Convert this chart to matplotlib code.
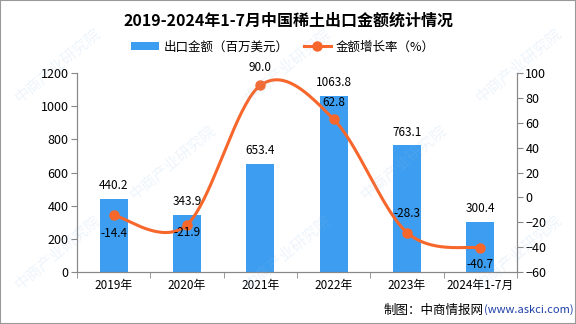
import numpy as np
import matplotlib.pyplot as plt
from matplotlib.patches import Rectangle

plt.rcParams['font.family'] = ['Noto Sans CJK SC', 'DejaVu Sans']

# data
years = ['2019年', '2020年', '2021年', '2022年', '2023年', '2024年1-7月']
export_value = [440.2, 343.9, 653.4, 1063.8, 763.1, 300.4]   # 百万美元
growth_rate = [-14.4, -21.9, 90.0, 62.8, -28.3, -40.7]       # %

# vertical offsets (points) of the growth labels, as placed in the reference
rate_offsets = [-13, -6, 13, 12, 14, -12]

bar_color = '#3d9df0'
line_color = '#f7662a'


def catmull_rom(xs, ys, n=40):
    """Smooth curve through the points (drawing only)"""
    pts = np.column_stack([xs, ys]).astype(float)
    pts = np.vstack([pts[0], pts, pts[-1]])
    out = []
    for i in range(1, len(pts) - 2):
        p0, p1, p2, p3 = pts[i - 1], pts[i], pts[i + 1], pts[i + 2]
        t = np.linspace(0, 1, n)[:, None]
        seg = 0.5 * ((2 * p1) + (-p0 + p2) * t +
                     (2 * p0 - 5 * p1 + 4 * p2 - p3) * t ** 2 +
                     (-p0 + 3 * p1 - 3 * p2 + p3) * t ** 3)
        out.append(seg)
    out = np.vstack(out)
    return out[:, 0], out[:, 1]


fig = plt.figure(figsize=(5.76, 3.24), dpi=100)
ax = fig.add_axes([77 / 576, 52 / 324, 440 / 576, 199 / 324])

x = np.arange(len(years))
bars = ax.bar(x, export_value, width=0.38, color=bar_color, zorder=2,
              label='出口金额（百万美元）')
for xi, v in zip(x, export_value):
    ax.annotate(f'{v:.1f}', (xi, v), xytext=(0, 5), textcoords='offset points',
                ha='center', va='bottom', fontsize=8.5)

ax.set_xlim(-0.5, len(years) - 0.5)
ax.set_ylim(0, 1200)
ax.set_yticks(range(0, 1201, 200))
ax.set_xticks(x)
ax.set_xticklabels(years, fontsize=8.5)
ax.set_xticks(np.arange(-0.5, len(years)), minor=True)
ax.tick_params(axis='x', which='major', length=0, pad=5)
ax.tick_params(axis='x', which='minor', length=4, color='#888888')
ax.tick_params(axis='y', length=4, color='#888888', labelsize=9, pad=2)

ax2 = ax.twinx()
sx, sy = catmull_rom(x, growth_rate)
ax2.plot(sx, sy, color=line_color, lw=2.2, zorder=3)
ax2.plot(x, growth_rate, 'o', color=line_color, ms=6.5, zorder=4)
for xi, v, off in zip(x, growth_rate, rate_offsets):
    ax2.annotate(f'{v:.1f}', (xi, v), xytext=(0, off), textcoords='offset points',
                 ha='center', va='center', fontsize=8.5, zorder=5)
ax2.set_ylim(-60, 100)
ax2.set_yticks(range(-60, 101, 20))
ax2.tick_params(axis='y', length=4, color='#888888', labelsize=9, pad=2)

for a in (ax, ax2):
    a.spines['top'].set_visible(False)
    for s in ('left', 'right', 'bottom'):
        a.spines[s].set_color('#888888')

# legend
h_line = plt.Line2D([], [], color=line_color, lw=2.2, marker='o', ms=6.5)
fig.legend([bars, h_line], ['出口金额（百万美元）', '金额增长率（%）'],
           loc='center', bbox_to_anchor=(283 / 576, 1 - 47 / 324), ncol=2,
           frameon=False, fontsize=9, handlelength=2.2, handleheight=0.6,
           columnspacing=1.2, handletextpad=0.4)

fig.text(288 / 576, 1 - 21 / 324, '2019-2024年1-7月中国稀土出口金额统计情况',
         ha='center', va='center', fontsize=11.5, fontweight='bold')

# source
fig.text(484 / 576, 1 - 310 / 324, '制图：中商情报网', ha='right', va='center', fontsize=9)
fig.text(484 / 576, 1 - 310 / 324, '(www.askci.com)', ha='left', va='center',
         fontsize=8, color='#1f3fa8')

# faint watermark
for wx, wy in [(0.1, 0.8), (0.5, 0.8), (0.9, 0.8), (0.3, 0.5),
               (0.7, 0.5), (0.1, 0.22), (0.5, 0.22), (0.9, 0.22)]:
    fig.text(wx, wy, '中商产业研究院', rotation=40, ha='center', va='center',
             fontsize=11, color='#8fbfe6', alpha=0.16, zorder=0)

fig.patches.append(Rectangle((0, 0), 1, 1, transform=fig.transFigure, fill=False,
                             edgecolor='#999999', lw=1.5))

fig.savefig('out.png', dpi=100)
